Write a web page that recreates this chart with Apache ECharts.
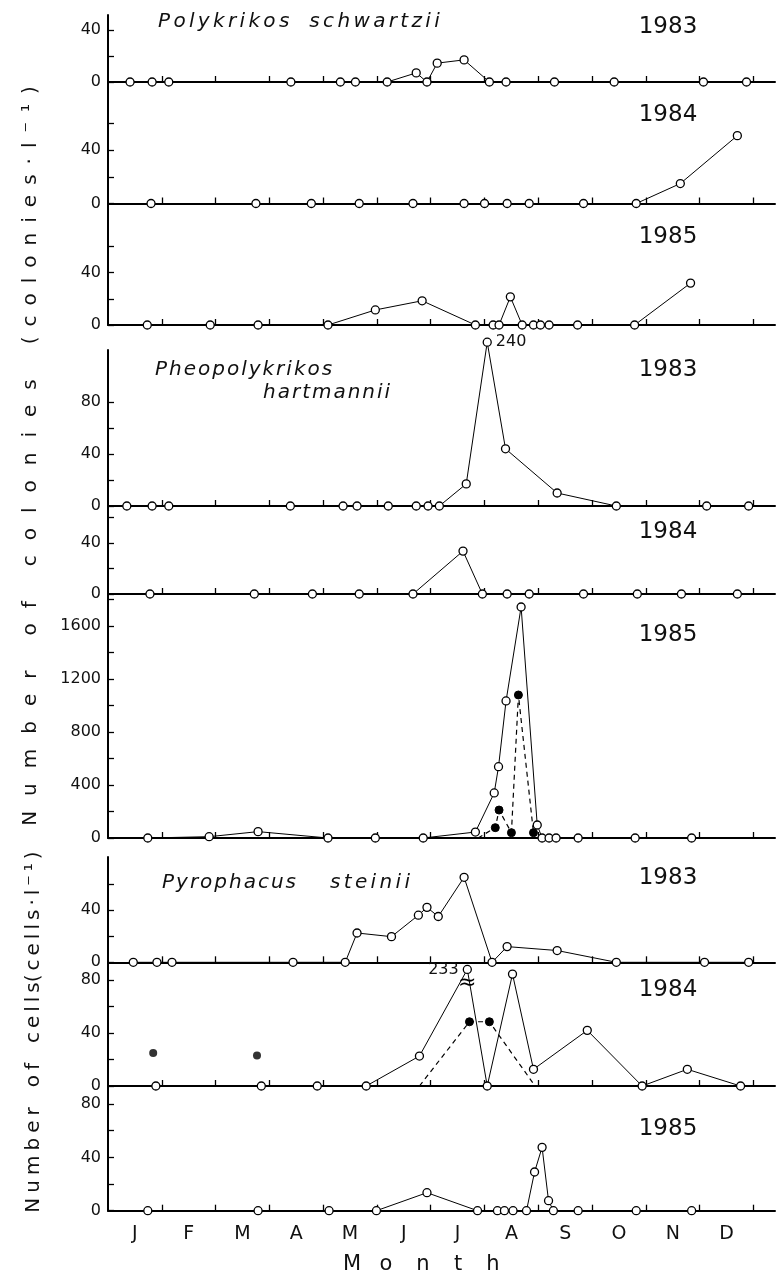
<!DOCTYPE html>
<html>
<head>
<meta charset="utf-8">
<script src="https://cdn.jsdelivr.net/npm/echarts@6/dist/echarts.min.js"></script>
<style>
html,body{margin:0;padding:0;background:#fff;}
#chart{width:777px;height:1281px;}
</style>
</head>
<body>
<div id="chart"></div>
<script>
// ---- categories / tick labels ----
const monthLabels = ['J','F','M','A','M','J','J','A','S','O','N','D'];
const years = ['1983','1984','1985'];

// ---- data: x = month position (0 = 1 Jan, 12 = 31 Dec) ----
// Polykrikos schwartzii (colonies/l)
const ps83_x = [0.41,0.82,1.13,3.40,4.32,4.60,5.19,5.73,5.93,6.12,6.62,7.09,7.40,8.30,9.41,11.07,11.87];
const ps83_y = [0,0,0,0,0,0,0,7,0,14.5,17,0,0,0,0,0,0];
const ps84_x = [0.80,2.75,3.78,4.67,5.67,6.62,7.00,7.42,7.83,8.84,9.82,10.64,11.70];
const ps84_y = [0,0,0,0,0,0,0,0,0,0,0,15,51];
const ps85_x = [0.73,1.90,2.79,4.09,4.97,5.84,6.83,7.16,7.27,7.48,7.70,7.91,8.04,8.20,8.73,9.79,10.83];
const ps85_y = [0,0,0,0,11.5,18.5,0,0,0,21.5,0,0,0,0,0,0,32];

// Pheopolykrikos hartmannii (colonies/l)
const ph83_x = [0.35,0.82,1.13,3.39,4.37,4.63,5.21,5.73,5.95,6.16,6.66,7.05,7.39,8.35,9.45,11.13,11.91];
const ph83_y = [0,0,0,0,0,0,0,0,0,0,17,240,44,10,0,0,0];
const ph84_x = [0.78,2.72,3.80,4.67,5.67,6.60,6.96,7.42,7.83,8.84,9.84,10.66,11.70];
const ph84_y = [0,0,0,0,0,33.5,0,0,0,0,0,0,0];
const ph85_x = [0.74,1.88,2.79,4.09,4.97,5.86,6.83,7.18,7.26,7.40,7.68,7.98,8.07,8.20,8.33,8.74,9.80,10.85];
const ph85_y = [0,10,48,0,0,0,45,340,538,1034,1743,98,0,0,0,0,0,0];
const ph85f_x = [6.88,7.20,7.27,7.50,7.63,7.91];
const ph85f_y = [0,78,211,40,1079,40];

// Pyrophacus steinii (cells/l)
const py83_x = [0.47,0.91,1.19,3.44,4.41,4.63,5.27,5.77,5.93,6.14,6.62,7.14,7.42,8.35,9.45,11.09,11.91];
const py83_y = [0,0,0,0,0,22.4,19.6,36,42,35,65,0,12,9,0,0,0];
const py84_x = [0.89,2.85,3.89,4.80,5.79,6.68,7.05,7.52,7.91,8.91,9.93,10.77,11.76];
const py84_y = [0,0,0,0,22.6,233,0,84.5,12.6,42,0,12.6,0];
const py84f_x = [5.79,6.72,7.09,7.94];
const py84f_y = [0,48.5,48.5,0];
const py84s_x = [0.84,2.77];
const py84s_y = [25,23];
const py85_x = [0.74,2.79,4.11,4.99,5.93,6.87,7.24,7.37,7.53,7.78,7.93,8.07,8.19,8.28,8.74,9.82,10.85];
const py85_y = [0,0,0,0,13.5,0,0,0,0,0,29,47.5,7.5,0,0,0,0];

// ---- layout (style only) ----
const FONT = 'DejaVu Sans';
const panels = [
  {top:15,    bottom:82,    max:51.5, ticks:[20,40],          labels:[0,40],   year:0, yy:27},
  {top:82,    bottom:203.5, max:91.3, ticks:[20,40,60],       labels:[0,40],   year:1, yy:115},
  {top:203.5, bottom:325,   max:92.8, ticks:[20,40,60],       labels:[0,40],   year:2, yy:237},
  {top:350,   bottom:506,   max:120,  ticks:[20,40,60,80],    labels:[0,40,80],year:0, yy:370},
  {top:506,   bottom:594,   max:68.7, ticks:[20,40,60],       labels:[0,40],   year:1, yy:532},
  {top:594,   bottom:838,   max:1841, ticks:[200,400,600,800,1000,1200,1400,1600,1800], labels:[0,400,800,1200,1600], year:2, yy:635},
  {top:857,   bottom:962.3, max:80.5, ticks:[20,40,60],       labels:[0,40],   year:0, yy:878},
  {top:962.3, bottom:1086,  max:93.4, ticks:[20,40,60,80],    labels:[0,40,80],year:1, yy:990},
  {top:1086,  bottom:1210.7,max:93.5, ticks:[20,40,60,80],    labels:[0,40,80],year:2, yy:1129}
];
const caps = {3:126, 7:88};

const grids = [], xAxes = [], yAxes = [], series = [];
const monthTicks = [1,2,3,4,5,6,7,8,9,10,11,12];
const monthCenters = monthLabels.map((m,i)=>i+0.5);

panels.forEach((p,i)=>{
  grids.push({left:108, width:667, top:p.top, height:p.bottom-p.top});
  const last = i === panels.length-1;
  xAxes.push({
    type:'value', gridIndex:i, min:0, max:12.4,
    axisLine:{show:true, onZero:false, lineStyle:{color:'#000', width:2}},
    axisTick:{show:true, inside:true, length:6, customValues:monthTicks, lineStyle:{color:'#000', width:1.3}},
    axisLabel:{show:last, customValues:monthCenters, margin:14, fontFamily:FONT, fontSize:19, color:'#111',
      formatter:v=>monthLabels[Math.floor(v)]},
    splitLine:{show:false}
  });
  yAxes.push({
    type:'value', gridIndex:i, min:0, max:p.max,
    axisLine:{show:true, lineStyle:{color:'#000', width:2}},
    axisTick:{show:true, inside:true, length:6, customValues:[0].concat(p.ticks), lineStyle:{color:'#000', width:1.3}},
    axisLabel:{show:true, customValues:p.labels, margin:7, fontFamily:FONT, fontSize:16, color:'#111',
      formatter:v=>String(v)},
    splitLine:{show:false}
  });
});

function openLine(idx, xs, ys, labelPos){
  const cap = caps[idx];
  const data = xs.map((x,k)=>{
    const v = ys[k];
    if (cap !== undefined && v > cap) {
      return {value:[x, cap], label:{show:true, formatter:String(v), position:labelPos, distance:4,
        fontFamily:FONT, fontSize:16, color:'#111'}};
    }
    return [x, v];
  });
  const s = {
    type:'line', xAxisIndex:idx, yAxisIndex:idx, data, clip:false,
    symbol:'circle', symbolSize:8, showAllSymbol:true,
    itemStyle:{color:'#fff', borderColor:'#000', borderWidth:1.3},
    lineStyle:{color:'#000', width:1}, z:5, animation:false
  };
  if (cap !== undefined) {
    const k = ys.findIndex(v=>v>cap);
    s.markPoint = {symbol:'circle', symbolSize:0, animation:false,
      data:[{coord:[xs[k], cap], label:{show:true, formatter:'≈', offset:[0,14], fontFamily:FONT, fontSize:22, color:'#000'}}]};
  }
  series.push(s);
}
function filledLine(idx, xs, ys, endsBare){
  const data = xs.map((x,k)=>{
    if (endsBare && (k===0 || k===xs.length-1)) return {value:[x, ys[k]], symbol:'none'};
    if (!endsBare && k===0) return {value:[x, ys[k]], symbol:'none'};
    return [x, ys[k]];
  });
  series.push({type:'line', xAxisIndex:idx, yAxisIndex:idx, data, clip:false,
    symbol:'circle', symbolSize:8, showAllSymbol:true,
    itemStyle:{color:'#000', borderColor:'#000', borderWidth:1},
    lineStyle:{color:'#000', width:1.2, type:[5,4]}, z:6, animation:false});
}

openLine(0, ps83_x, ps83_y);
openLine(1, ps84_x, ps84_y);
openLine(2, ps85_x, ps85_y);
openLine(3, ph83_x, ph83_y, 'right');
openLine(4, ph84_x, ph84_y);
openLine(5, ph85_x, ph85_y);
filledLine(5, ph85f_x, ph85f_y, false);
openLine(6, py83_x, py83_y);
openLine(7, py84_x, py84_y, 'left');
filledLine(7, py84f_x, py84f_y, true);
series.push({type:'scatter', xAxisIndex:7, yAxisIndex:7, data:py84s_x.map((x,k)=>[x,py84s_y[k]]),
  symbol:'circle', symbolSize:8, itemStyle:{color:'#000'}, z:6, animation:false});
openLine(8, py85_x, py85_y);

// ---- texts ----
const sp = (s, sep) => s.split('').join(sep);
const graphics = [];
function txt(x, y, text, font, opts){
  graphics.push(Object.assign({type:'text', x, y, silent:true,
    style:Object.assign({text, font, fill:'#111', textAlign:'left', textVerticalAlign:'middle'}, opts||{})}));
}
// species names
const TS = '\u2006', TH = '\u200A';
txt(158, 22, sp('Polykrikos', TS) + '\u2003' + sp('schwartzii', TS), 'italic 20px ' + FONT);
txt(155, 370, sp('Pheopolykrikos', TH), 'italic 20px ' + FONT);
txt(263, 393, sp('hartmannii', TH), 'italic 20px ' + FONT);
txt(162, 883, sp('Pyrophacus', TH), 'italic 20px ' + FONT);
txt(330, 883, sp('steinii', TS), 'italic 20px ' + FONT);
// years
panels.forEach(p=>{
  txt(668, p.yy, years[p.year], '23px ' + FONT, {textAlign:'center'});
});
// month axis title
['M','o','n','t','h'].forEach((c,k)=>{
  txt([352,386,423,458,493][k], 1265, c, '21px ' + FONT, {textAlign:'center'});
});
// y titles
const s1 = '\u2002\u2005', g1 = '\u2003\u2002\u2005';
const title1 = sp('Number', s1) + g1 + sp('of', s1) + g1 + sp('colonies', s1) + g1 + sp('(colonies·l⁻¹)', '\u2002');
graphics.push({type:'text', x:31, y:456, rotation:Math.PI/2, silent:true,
  style:{text:title1, font:'20px ' + FONT, fill:'#111', textAlign:'center', textVerticalAlign:'middle'}});
const title2 = sp('Number', '\u2005') + '\u2003' + sp('of', '\u2005') + '\u2003' + sp('cells', '\u2009') + sp('(cells·l⁻¹)', '\u2009');
graphics.push({type:'text', x:34, y:1032, rotation:Math.PI/2, silent:true,
  style:{text:title2, font:'20px ' + FONT, fill:'#111', textAlign:'center', textVerticalAlign:'middle'}});

const chart = echarts.init(document.getElementById('chart'), null, {renderer:'canvas'});
chart.setOption({
  animation:false,
  backgroundColor:'#fff',
  grid:grids, xAxis:xAxes, yAxis:yAxes, series, graphic:graphics
});
</script>
</body>
</html>
